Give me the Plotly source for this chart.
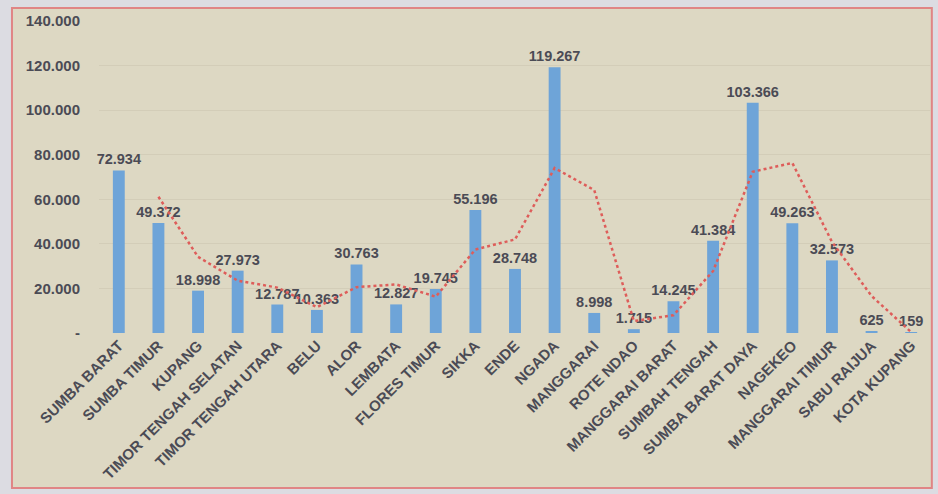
import plotly.graph_objects as go

categories = ["SUMBA BARAT", "SUMBA TIMUR", "KUPANG", "TIMOR TENGAH SELATAN",
              "TIMOR TENGAH UTARA", "BELU", "ALOR", "LEMBATA", "FLORES TIMUR",
              "SIKKA", "ENDE", "NGADA", "MANGGARAI", "ROTE NDAO", "MANGGARAI BARAT",
              "SUMBAH TENGAH", "SUMBA BARAT DAYA", "NAGEKEO", "MANGGARAI TIMUR",
              "SABU RAIJUA", "KOTA KUPANG"]
values = [72934, 49372, 18998, 27973, 12787, 10363, 30763, 12827, 19745,
          55196, 28748, 119267, 8998, 1715, 14245, 41384, 103366, 49263,
          32573, 625, 159]
value_labels = ["72.934", "49.372", "18.998", "27.973", "12.787", "10.363",
                "30.763", "12.827", "19.745", "55.196", "28.748", "119.267",
                "8.998", "1.715", "14.245", "41.384", "103.366", "49.263",
                "32.573", "625", "159"]
# red dotted trend line (2-period moving average)
trend_categories = categories[1:]
trend_values = [61153, 34185, 23486, 20380, 11575, 20563, 21795, 16286, 37471,
                41972, 74008, 64133, 5357, 7980, 27815, 72375, 76315, 40918,
                16599, 392]
y_tickvals = [0, 20000, 40000, 60000, 80000, 100000, 120000, 140000]
y_ticktext = ["-", "20.000", "40.000", "60.000", "80.000", "100.000", "120.000", "140.000"]

text_color = "#4b4b55"
bg = "#ddd8c3"

fig = go.Figure()
fig.add_trace(go.Bar(
    x=categories, y=values, text=value_labels, textposition="outside",
    constraintext="none",
    textfont=dict(family="Liberation Sans", size=14.5, color=text_color, weight="bold"),
    marker=dict(color="#6ea4d8", line=dict(width=0)),
    width=0.3, cliponaxis=False, showlegend=False,
))
fig.add_trace(go.Scatter(
    x=trend_categories, y=trend_values, mode="lines",
    line=dict(color="#de5d5a", width=2.5, dash="dot"),
    showlegend=False, hoverinfo="skip",
))

fig.update_layout(
    width=938, height=494,
    margin=dict(l=99, r=7, t=21, b=161),
    paper_bgcolor="#dcdce2",
    plot_bgcolor="rgba(0,0,0,0)",
    font=dict(family="Liberation Sans", color=text_color),
    shapes=[dict(type="rect", xref="paper", yref="paper",
                 x0=-0.1046, x1=1.001, y0=-0.4968, y1=1.0417,
                 fillcolor=bg, line=dict(color="#e08585", width=2), layer="below")],
    xaxis=dict(tickangle=-45, showgrid=False, zeroline=False, showline=False,
               automargin=False,
               tickfont=dict(family="Liberation Sans", size=15, color=text_color, weight="bold")),
    yaxis=dict(range=[0, 140000], tickvals=y_tickvals, ticktext=y_ticktext,
               showgrid=True, gridcolor="#d3cdb8", gridwidth=1, zeroline=False,
               ticklabelstandoff=18, automargin=False,
               tickfont=dict(family="Liberation Sans", size=15, color=text_color, weight="bold")),
)

fig.write_html("out.html", config={"displayModeBar": False},
               post_script="document.body.style.margin='0';")
